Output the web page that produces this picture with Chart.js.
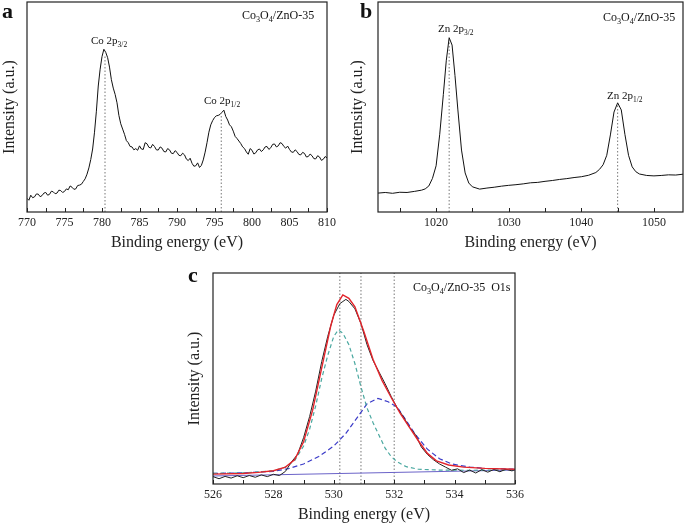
<!DOCTYPE html>
<html>
<head>
<meta charset="utf-8">
<script src="https://cdn.jsdelivr.net/npm/chart.js@4.4.1/dist/chart.umd.min.js"></script>
<style>
  body { margin: 0; background: #fff; }
  canvas { position: absolute; }
</style>
</head>
<body>
<canvas id="chartA" width="340" height="260" style="left:0;top:0"></canvas>
<canvas id="chartB" width="345" height="260" style="left:340px;top:0"></canvas>
<canvas id="chartC" width="360" height="264" style="left:180px;top:260px"></canvas>
<script>
// panel a : Co 2p
const aEnergy = [
  770,770.25,770.5,770.75, 771,771.25,771.5,771.75, 772,772.25,772.5,772.75, 773,773.25,773.5,773.75,
  774,774.25,774.5,774.75, 775,775.25,775.5,775.75, 776,776.25,776.5,776.75, 777,777.25,777.5,777.75,
  778,778.25,778.5,778.75, 779,779.25,779.5,779.75, 780,780.25,780.5,780.75, 781,781.25,781.5,781.75,
  782,782.25,782.5,782.75, 783,783.25,783.5,783.75, 784,784.25,784.5,784.75, 785,785.25,785.5,785.75,
  786,786.25,786.5,786.75, 787,787.25,787.5,787.75, 788,788.25,788.5,788.75, 789,789.25,789.5,789.75,
  790,790.25,790.5,790.75, 791,791.25,791.5,791.75, 792,792.25,792.5,792.75, 793,793.25,793.5,793.75,
  794,794.25,794.5,794.75, 795,795.25,795.5,795.75, 796,796.25,796.5,796.75, 797,797.25,797.5,797.75,
  798,798.25,798.5,798.75, 799,799.25,799.5,799.75, 800,800.25,800.5,800.75, 801,801.25,801.5,801.75,
  802,802.25,802.5,802.75, 803,803.25,803.5,803.75, 804,804.25,804.5,804.75, 805,805.25,805.5,805.75,
  806,806.25,806.5,806.75, 807,807.25,807.5,807.75, 808,808.25,808.5,808.75, 809,809.25,809.5,809.75, 810];
const aIntensity = [
  6.5,5.6,8.0,6.8, 7.2,8.6,8.5,7.3, 7.8,9.0,9.3,8.0, 8.4,9.9,9.6,8.7,
  9.0,10.4,10.2,9.3, 9.8,11.0,10.6,12.4, 11.8,10.8,11.0,12.6, 12.8,13.2,14.5,15.8,
  18.0,21,25,30, 38,48,60,68, 74,77.5,76,73.5, 69,63,59,56,
  52,46,42,39.5, 37,34,33,31.2, 31,29.6,30.2,29.4, 31.5,30.0,29.8,33.0,
  32.5,30.8,30.5,32.2, 31.2,29.6,29.5,31.0, 30.4,28.8,28.6,30.2, 29.6,28.0,27.8,29.2,
  28.4,27.0,26.8,28.0, 27.2,25.2,24.5,25.6, 23.2,21.8,22.0,23.4, 21.2,22.2,24.8,28.5,
  33,38,41.5,43.5, 45,45.8,46,46.5, 47.5,48.5,45.5,43.8, 41.5,40.6,38.5,36.0,
  35,33.8,32.6,31.0, 30.2,28.6,27.5,30.2, 29.4,27.6,28.2,29.6, 30.0,28.8,29.6,31.0,
  31.2,29.8,30.6,32.2, 32.4,31.0,31.5,33.0, 32.6,31.2,30.4,31.4, 29.8,28.6,28.4,29.6,
  28.8,27.4,27.2,28.4, 27.9,26.2,26.4,27.6, 26.8,25.4,25.3,26.8, 26.2,24.6,25.1,26.4, 25.8];
const aPeaks = [780.4, 795.9];
const aPeakTops = [75, 46];

// panel b : Zn 2p
const bEnergy = [1012,1013,1014,1015,1016,1017,1018,1018.5,1019,1019.5,1020,1020.5,1021,1021.4,1021.8,1022.2,1022.6,1023,1023.5,1024,1024.5,
  1025,1026,1027,1028,1029,1030,1031,1032,1033,1034,1035,1036,1037,1038,1039,1040,1041,1042,1042.5,1043,1043.5,
  1044,1044.5,1045,1045.5,1046,1046.5,1047,1047.5,1048,1049,1050,1051,1052,1053,1054];
const bIntensity = [9.0,9.3,8.9,9.4,9.3,9.8,10.4,11.0,12.4,16,22,37,56,72,83,79.5,65,48.6,29.5,18.6,13.8,
  12,10.9,11.4,11.8,12.3,12.7,13.0,13.4,13.9,14.1,14.6,15.0,15.5,15.9,16.4,16.8,17.5,18.8,20.3,22.5,27,
  36.7,47.6,52,48.6,37,27,21.5,19.2,18.1,17.4,17.2,17.4,17.7,17.6,18.0];
const bPeaks = [1021.8, 1045];
const bPeakTops = [82, 51];

// panel c : O 1s
const cEnergy = [526,526.2,526.4,526.6,526.8,527,527.2,527.4,527.6,527.8,528,528.2,528.4,528.6,528.8,529,529.2,529.4,529.6,529.8,
  530,530.2,530.3,530.4,530.5,530.7,530.9,531.1,531.3,531.5,531.7,531.9,532.1,532.3,532.5,532.7,532.9,533.1,533.3,533.5,
  533.7,533.9,534.1,534.3,534.5,534.7,534.9,535.1,535.3,535.5,535.7,535.9,536];
const cIntensity = [3.5,2.5,3.6,2.8,3.9,3.0,4.0,3.2,4.3,3.5,4.6,4.0,6.0,10.5,14,22,32,44,58,70,
  80,85.5,86.5,87.5,86.5,83,76,66,58.5,53,47.5,41.5,36,32,27,23.5,17.5,14,11.5,9.5,
  8,6.5,7.2,5.4,6.6,5.2,6.8,5.6,6.9,5.8,7.0,6.2,6.8];
const cFitEnergy = [526,527,527.5,528,528.4,528.7,529,529.3,529.6,529.9,530.1,530.3,530.5,530.7,531,531.3,531.6,531.9,532.2,532.5,532.8,533.1,533.4,533.8,534.3,535,536];
const cFit = [4.7,5,5.5,6.3,8,11.5,20,35,55,75,85,89.6,88,84,72,59,49,41,33.5,27,20.5,14.5,11,9,8,7.4,7];
const cLatticeEnergy = [526,527,527.5,528,528.4,528.7,529,529.2,529.4,529.6,529.8,530,530.15,530.3,530.5,530.7,530.9,531.1,531.3,531.5,531.7,531.9,532.1,532.4,532.8,533.5,534.5,536];
const cLattice = [5,5.3,5.7,6.3,8,11,18,26,37,50,61,70,73,71.5,66,57,46,36,29,23,17,13,10.5,8.2,7,6.6,6.5,6.8];
const cDefectEnergy = [526,527,528,528.5,529,529.5,530,530.4,530.8,531.1,531.46,531.8,532.1,532.4,532.7,533.1,533.5,533.9,534.5,535,536];
const cDefect = [5,5.3,6,7.3,9.5,13,18,24,32,38,40.6,39,36.5,30,23.5,16.5,12,9.5,8,7.4,7];
const cBaseEnergy = [526, 536];
const cBase = [3.8, 6.6];
const cGuides = [530.2, 530.9, 532.0];

const serif = "'Liberation Serif', 'Times New Roman', serif";

function pts(xs, ys) {
  return xs.map((x, i) => ({ x: x, y: ys[i] }));
}

function line(xs, ys, color, width, dash) {
  return {
    data: pts(xs, ys),
    borderColor: color,
    borderWidth: width,
    borderDash: dash || [],
    pointRadius: 0,
    fill: false,
    tension: 0
  };
}

// dotted peak markers, from the axis up to the given height
function guides(pos, tops) {
  return pos.map((p, i) => line([p, p], [0, tops[i]], '#777', 1, [1.5, 2]));
}

function xScale(min, max, step, labelStep) {
  return {
    type: 'linear', min: min, max: max,
    grid: { display: false, drawTicks: false },
    border: { display: false },
    ticks: {
      stepSize: step, padding: 4, color: '#222', autoSkip: false, maxRotation: 0, includeBounds: false,
      font: { family: serif, size: 12 },
      callback: v => (Math.abs(v / labelStep - Math.round(v / labelStep)) < 1e-6 ? v : '')
    },
    title: { display: true, text: 'Binding energy (eV)', color: '#222', font: { family: serif, size: 16 }, padding: 0 },
    afterFit: s => { s.height = 40; }
  };
}

function yScale(width) {
  return {
    type: 'linear', min: 0, max: 100,
    grid: { display: false, drawTicks: false },
    border: { display: false },
    ticks: { display: false },
    title: { display: true, text: 'Intensity (a.u.)', color: '#222', font: { family: serif, size: 16 }, padding: 0 },
    afterFit: s => { s.width = width; }
  };
}

// box round the plot and small ticks pointing inwards
function frame(step) {
  return {
    id: 'frame',
    afterDraw(chart) {
      const { ctx, chartArea: a } = chart;
      const sx = chart.scales.x;
      ctx.save();
      ctx.strokeStyle = '#222';
      ctx.lineWidth = 1.2;
      ctx.strokeRect(a.left, a.top, a.right - a.left, a.bottom - a.top);
      ctx.lineWidth = 1;
      sx.ticks.forEach(t => {
        if (Math.abs(t.value / step - Math.round(t.value / step)) > 1e-6) return;
        const px = Math.round(sx.getPixelForValue(t.value)) + 0.5;
        ctx.beginPath();
        ctx.moveTo(px, a.bottom);
        ctx.lineTo(px, a.bottom - 4);
        ctx.stroke();
      });
      ctx.restore();
    }
  };
}

// text with subscripts: parts = [[text, isSub], ...]
function drawRich(ctx, x, y, parts, size) {
  let cx = x;
  parts.forEach(p => {
    const sub = p[1];
    ctx.font = (sub ? size * 0.68 : size) + 'px ' + serif;
    ctx.fillText(p[0], cx, sub ? y + size * 0.28 : y);
    cx += ctx.measureText(p[0]).width;
  });
}

function labels(letter, lx, ly, items) {
  return {
    id: 'labels',
    afterDraw(chart) {
      const ctx = chart.ctx;
      ctx.save();
      ctx.fillStyle = '#111';
      ctx.textBaseline = 'alphabetic';
      ctx.textAlign = 'left';
      ctx.font = 'bold 22px ' + serif;
      ctx.fillText(letter, lx, ly);
      items.forEach(it => drawRich(ctx, it.x, it.y, it.parts, it.size));
      ctx.restore();
    }
  };
}

function options(pad, xs, ys) {
  return {
    responsive: false,
    animation: false,
    layout: { padding: pad },
    plugins: { legend: { display: false }, tooltip: { enabled: false } },
    scales: { x: xs, y: ys }
  };
}

const sample = [['Co', 0], ['3', 1], ['O', 0], ['4', 1], ['/ZnO-35', 0]];

new Chart(document.getElementById('chartA'), {
  type: 'line',
  data: { datasets: [line(aEnergy, aIntensity, '#111', 1)].concat(guides(aPeaks, aPeakTops)) },
  options: options({ left: 0, top: 2, right: 12, bottom: 8 }, xScale(770, 810, 2.5, 5), yScale(27)),
  plugins: [frame(2.5), labels('a', 2, 18, [
    { x: 242, y: 19, size: 12, parts: sample },
    { x: 91, y: 44, size: 11, parts: [['Co 2p', 0], ['3/2', 1]] },
    { x: 204, y: 104, size: 11, parts: [['Co 2p', 0], ['1/2', 1]] }
  ])]
});

new Chart(document.getElementById('chartB'), {
  type: 'line',
  data: { datasets: [line(bEnergy, bIntensity, '#111', 1)].concat(guides(bPeaks, bPeakTops)) },
  options: options({ left: 8, top: 2, right: 2, bottom: 8 }, xScale(1012, 1054, 5, 10), yScale(30)),
  plugins: [frame(5), labels('b', 20, 18, [
    { x: 263, y: 21, size: 12, parts: sample },
    { x: 98, y: 32, size: 11, parts: [['Zn 2p', 0], ['3/2', 1]] },
    { x: 267, y: 99, size: 11, parts: [['Zn 2p', 0], ['1/2', 1]] }
  ])]
});

new Chart(document.getElementById('chartC'), {
  type: 'line',
  data: {
    datasets: [
      line(cFitEnergy, cFit, '#e3242b', 1.4),
      line(cEnergy, cIntensity, '#222', 1),
      line(cLatticeEnergy, cLattice, '#4aa8a0', 1.2, [4, 3]),
      line(cDefectEnergy, cDefect, '#3b3bc8', 1.2, [5, 3]),
      line(cBaseEnergy, cBase, '#6b63c8', 1)
    ].concat(guides(cGuides, [100, 100, 100]))
  },
  options: options({ left: 5, top: 13, right: 25, bottom: 0 }, xScale(526, 536, 1, 2), yScale(28)),
  plugins: [frame(1), labels('c', 8, 22, [
    { x: 233, y: 31, size: 12, parts: sample.concat([['  O1s', 0]]) }
  ])]
});
</script>
</body>
</html>
